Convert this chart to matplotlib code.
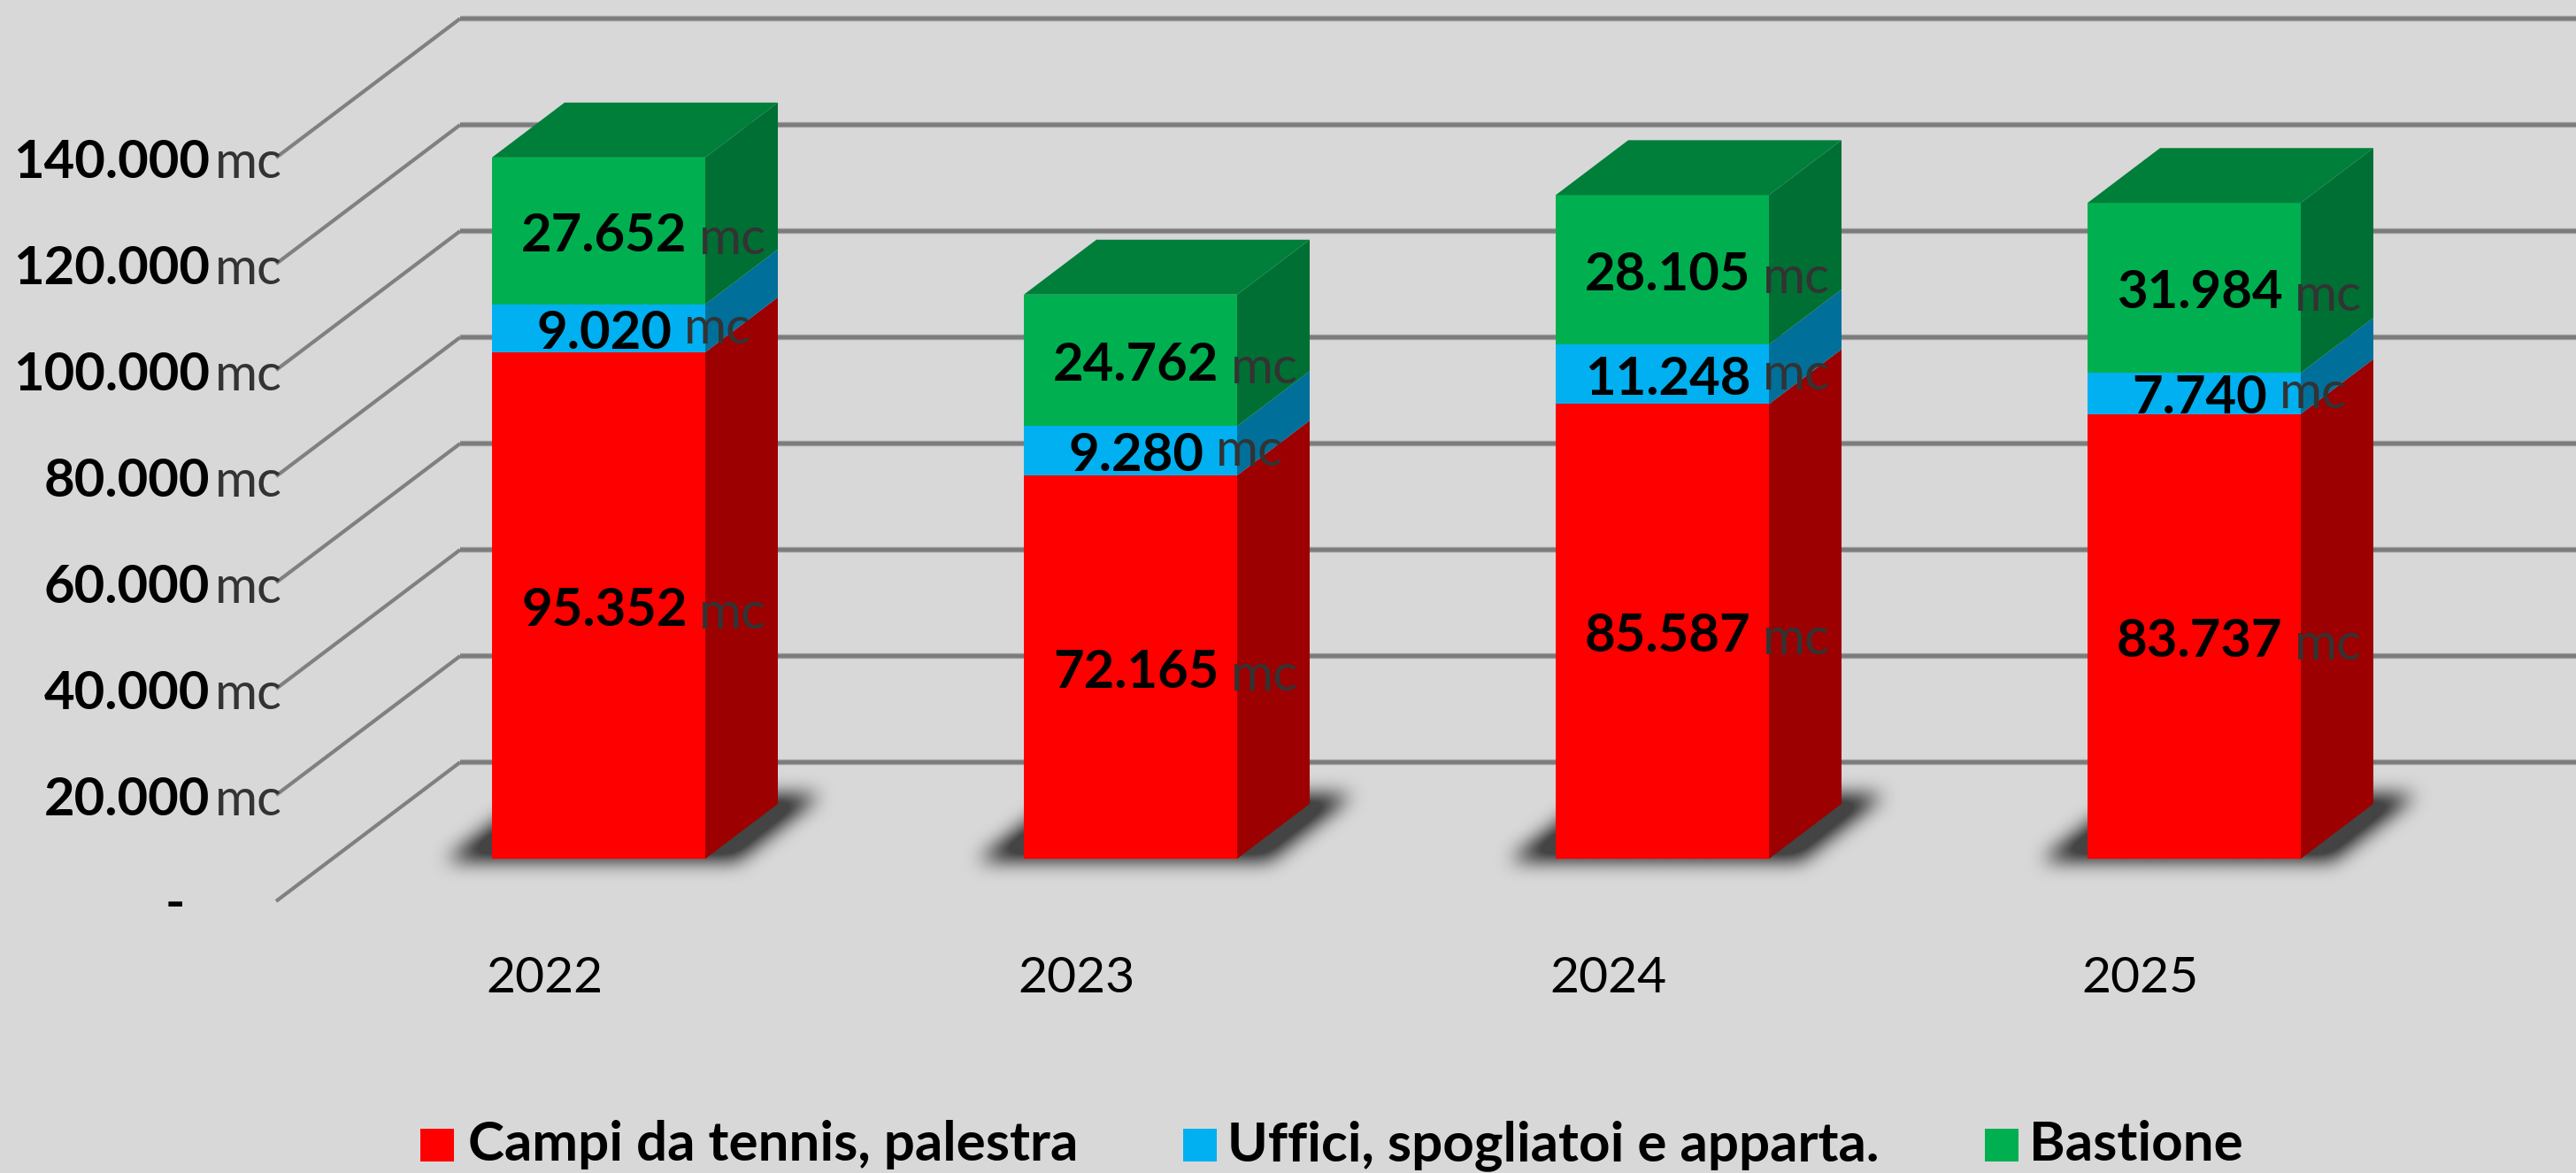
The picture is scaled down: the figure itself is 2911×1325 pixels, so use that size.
import matplotlib
matplotlib.use("Agg")
import matplotlib.pyplot as plt
import numpy as np
from matplotlib.patches import Polygon, Rectangle
from matplotlib.path import Path

plt.rcParams["font.family"] = ["Lato", "DejaVu Sans"]

years = ["2022", "2023", "2024", "2025"]
campi = [95352, 72165, 85587, 83737]
uffici = [9020, 9280, 11248, 7740]
bastione = [27652, 24762, 28105, 31984]
series_names = ["Campi da tennis, palestra", "Uffici, spogliatoi e apparta.", "Bastione"]
y_ticks = [20000, 40000, 60000, 80000, 100000, 120000, 140000]

front_colors = ["#FF0000", "#00B0F0", "#00B050"]
side_colors = ["#9C0000", "#006F99", "#006F33"]
top_color = "#007F3A"
bg = "#D8D8D8"
grid_color = "#808080"

# one category = 601 px, one unit = 0.006 px, first bar centre at 676.5 px
PX_X = 601
PX_Y = 0.006


def dx(px):
    return px / PX_X


def dy(px):
    return px / PX_Y


def fmt(v):
    return f"{v:,}".replace(",", ".")


def blurred_shadow(ax, pts, pad_px=60, radius=10):
    # polygon mask on a pixel grid, smoothed with a few box passes
    xs = [p[0] for p in pts]
    ys = [p[1] for p in pts]
    x0, x1 = min(xs) - dx(pad_px), max(xs) + dx(pad_px)
    y0, y1 = min(ys) - dy(pad_px), max(ys) + dy(pad_px)
    nx = int((x1 - x0) * PX_X)
    ny = int((y1 - y0) * PX_Y)
    gx, gy = np.meshgrid(np.linspace(x0, x1, nx), np.linspace(y0, y1, ny))
    mask = Path(pts).contains_points(np.c_[gx.ravel(), gy.ravel()]).reshape(ny, nx).astype(float)
    kernel = np.ones(2 * radius + 1) / (2 * radius + 1)
    for _ in range(3):
        mask = np.apply_along_axis(lambda r: np.convolve(r, kernel, mode="same"), 0, mask)
        mask = np.apply_along_axis(lambda r: np.convolve(r, kernel, mode="same"), 1, mask)
    rgba = np.zeros((ny, nx, 4))
    rgba[..., :3] = 0.2
    rgba[..., 3] = np.clip(mask * 1.2, 0, 0.9)
    ax.imshow(rgba, extent=(x0, x1, y0, y1), origin="lower", aspect="auto",
              interpolation="bilinear", zorder=2)


fig = plt.figure(figsize=(29.11, 13.25), dpi=100, facecolor=bg)
ax = fig.add_axes([0, 0, 1, 1])
xlim = (-676.5 / PX_X, (2911 - 676.5) / PX_X)
ylim = (dy(970 - 1325), dy(970))
ax.axis("off")

# walls
front_x = dx(312 - 676.5)
wall_x = dx(520 - 676.5)
depth = dy(157)
front_zero = dy(-48)
for v in [0] + y_ticks:
    back = v + front_zero + depth
    ax.plot([wall_x, xlim[1]], [back, back], color="#A0A0A0", lw=4.6,
            solid_capstyle="butt", zorder=1)
    ax.plot([wall_x, xlim[1]], [back, back], color="#7C7C7C", lw=3.0,
            solid_capstyle="butt", zorder=1)
    ax.plot([front_x, wall_x], [v + front_zero, back], color=grid_color, lw=3.0,
            solid_capstyle="butt", zorder=1)

# axis labels
for v in y_ticks:
    y = v + front_zero - dy(23)
    ax.text(dx(237 - 676.5), y, fmt(v), ha="right", va="baseline", fontsize=43,
            fontweight="bold", color="black", zorder=5)
    ax.text(dx(243 - 676.5), y, "mc", ha="left", va="baseline", fontsize=42,
            color="#333333", zorder=5)
ax.text(dx(198 - 676.5), front_zero - dy(4), "-", ha="center", va="center", fontsize=43,
        fontweight="bold", color="black", zorder=5)

half = dx(120.5)
bar_dx = dx(82)
bar_dy = dy(62)

for i, year in enumerate(years):
    blurred_shadow(ax, [
        (i - half - dx(52), dy(-2)),
        (i + half + dx(36), dy(-2)),
        (i + half + dx(130), dy(72)),
        (i - half + dx(45), dy(72)),
    ])

    bottom = 0
    for k, vals in enumerate([campi, uffici, bastione]):
        v = vals[i]
        ax.add_patch(Rectangle((i - half, bottom), 2 * half, v, facecolor=front_colors[k],
                               edgecolor="none", zorder=3))
        ax.add_patch(Polygon(
            [(i + half, bottom), (i + half + bar_dx, bottom + bar_dy),
             (i + half + bar_dx, bottom + v + bar_dy), (i + half, bottom + v)],
            closed=True, facecolor=side_colors[k], edgecolor="none", zorder=3))

        # data label
        mid = bottom + v / 2
        s = fmt(v)
        right = i + dx(100 if len(s) > 5 else 83)
        base = mid - dy(23)
        ax.text(right, base, s, ha="right", va="baseline", fontsize=43, fontweight="bold",
                color="black", zorder=6)
        mc_base = base + dy(6) if k == 1 else base - dy(3)
        ax.text(right + dx(13), mc_base, "mc", ha="left", va="baseline", fontsize=42,
                color="#333333", zorder=6)
        bottom += v

    ax.add_patch(Polygon(
        [(i - half, bottom), (i + half, bottom), (i + half + bar_dx, bottom + bar_dy),
         (i - half + bar_dx, bottom + bar_dy)],
        closed=True, facecolor=top_color, edgecolor="none", zorder=3))

    ax.text(i - dx(61), dy(970 - 1121), year, ha="center", va="baseline", fontsize=41,
            color="black", zorder=5)

# legend
legend_swatch = [475, 1337, 2243]
legend_text = [529, 1387, 2293]
for k, name in enumerate(series_names):
    ax.add_patch(Rectangle((dx(legend_swatch[k] - 676.5), dy(970 - 1312)), dx(38), dy(37),
                           facecolor=front_colors[k], edgecolor="none", zorder=5))
    ax.text(dx(legend_text[k] - 676.5), dy(970 - 1311), name, ha="left", va="baseline",
            fontsize=44.6, fontweight="bold", color="black", zorder=5)

ax.set_xlim(*xlim)
ax.set_ylim(*ylim)
plt.savefig("out.png", dpi=100, facecolor=bg)
